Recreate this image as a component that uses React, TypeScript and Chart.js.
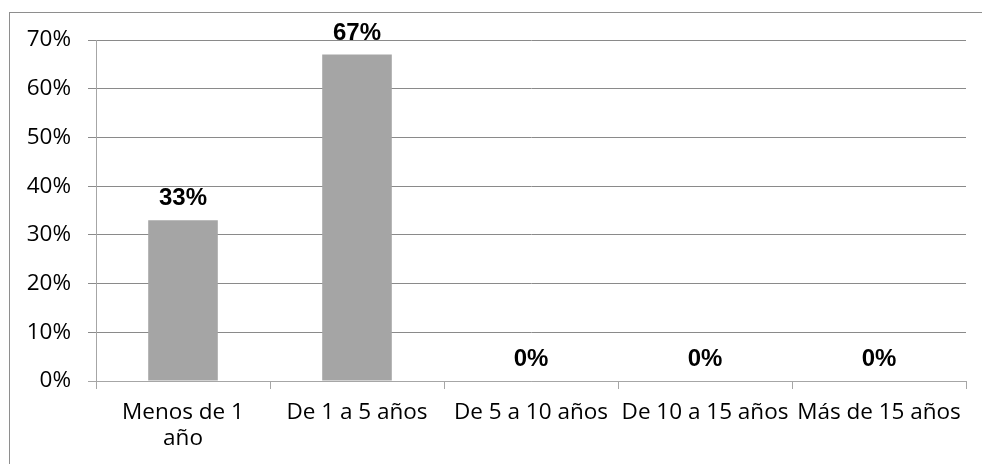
import React, { useEffect, useRef } from "react";
import { Chart, registerables } from "chart.js";

Chart.register(...registerables);

// Antigüedad: share of respondents per range of years
const categories: (string | string[])[] = [
  ["Menos de 1", "año"],
  "De 1 a 5 años",
  "De 5 a 10 años",
  "De 10 a 15 años",
  "Más de 15 años",
];
const percentages: number[] = [33, 67, 0, 0, 0];
const yTickMax = 70;
const yTickStep = 10;

const LABEL_FONT = '"Open Sans", "DejaVu Sans", sans-serif';
const VALUE_FONT = '"Liberation Sans", Arial, sans-serif';

// Outer frame around the whole chart
const framePlugin = {
  id: "frame",
  beforeDraw(chart: Chart) {
    const ctx = chart.ctx;
    ctx.save();
    ctx.strokeStyle = "#8e8e8e";
    ctx.lineWidth = 1;
    ctx.strokeRect(9.5, 12.5, chart.width + 20, chart.height + 20);
    ctx.restore();
  },
};

// Bold percentage labels above each bar
const valueLabelPlugin = {
  id: "valueLabels",
  afterDatasetsDraw(chart: Chart) {
    const ctx = chart.ctx;
    const meta = chart.getDatasetMeta(0);
    const values = chart.data.datasets[0].data as number[];
    ctx.save();
    ctx.font = `bold 24px ${VALUE_FONT}`;
    ctx.fillStyle = "#000000";
    ctx.textAlign = "center";
    ctx.textBaseline = "alphabetic";
    meta.data.forEach((bar: any, i: number) => {
      ctx.fillText(`${values[i]}%`, bar.x, bar.y - 15);
    });
    ctx.restore();
  },
};

export default function App() {
  const canvasRef = useRef<HTMLCanvasElement | null>(null);

  useEffect(() => {
    document.body.style.margin = "0";
    let chart: Chart | null = null;
    let cancelled = false;

    const build = () => {
      if (cancelled || !canvasRef.current) return;
      chart = new Chart(canvasRef.current, {
        type: "bar",
        data: {
          labels: categories,
          datasets: [
            {
              data: percentages,
              backgroundColor: "#a5a5a5",
              borderWidth: 0,
              categoryPercentage: 1,
              barPercentage: 0.4,
            },
          ],
        },
        options: {
          responsive: false,
          animation: false,
          devicePixelRatio: 1,
          layout: { padding: { left: 0, right: 16, top: 40, bottom: 0 } },
          plugins: {
            legend: { display: false },
            tooltip: { enabled: false },
            title: { display: false },
          },
          scales: {
            x: {
              afterFit: (scale: any) => {
                scale.height = 83;
              },
              grid: {
                offset: true,
                drawOnChartArea: false,
                drawTicks: true,
                tickLength: 8,
                color: "#a6a6a6",
              },
              border: { color: "#a6a6a6" },
              ticks: {
                autoSkip: false,
                maxRotation: 0,
                minRotation: 0,
                padding: 10,
                color: "#000000",
                font: { family: LABEL_FONT, size: 22.5, lineHeight: 1.17 },
              },
            },
            y: {
              min: 0,
              max: yTickMax,
              afterFit: (scale: any) => {
                scale.width = 96;
              },
              grid: {
                drawTicks: true,
                tickLength: 8,
                color: (c: any) => (c.tick && c.tick.value === 0 ? "#a6a6a6" : "#8a8a8a"),
              },
              border: { color: "#a6a6a6" },
              ticks: {
                stepSize: yTickStep,
                padding: 17,
                color: "#000000",
                font: { family: LABEL_FONT, size: 22.5 },
                callback: (v: any) => `${v}%`,
              },
            },
          },
        },
        plugins: [framePlugin, valueLabelPlugin],
      });
    };

    const fonts: any = (document as any).fonts;
    if (fonts && fonts.load) {
      Promise.all([
        fonts.load(`22px ${LABEL_FONT}`),
        fonts.load(`bold 24px ${VALUE_FONT}`),
      ]).then(build, build);
    } else {
      build();
    }

    return () => {
      cancelled = true;
      if (chart) chart.destroy();
    };
  }, []);

  return (
    <div style={{ width: 982, height: 464, overflow: "hidden" }}>
      <canvas ref={canvasRef} width={982} height={464} />
    </div>
  );
}
